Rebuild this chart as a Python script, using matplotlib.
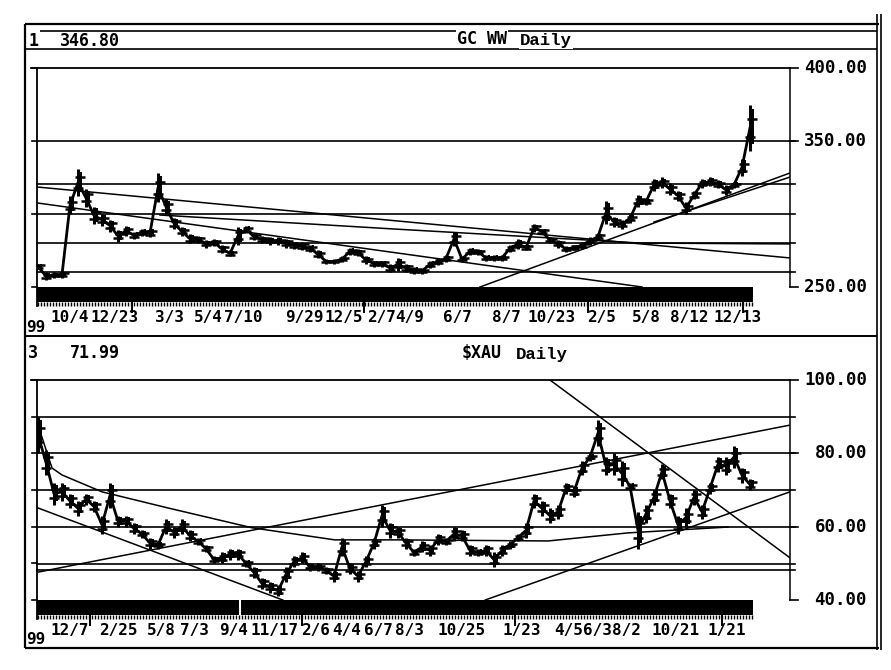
import numpy as np
import matplotlib
matplotlib.use("Agg")
import matplotlib.pyplot as plt
from matplotlib.patches import Rectangle
from matplotlib.transforms import blended_transform_factory

W, H = 891, 670

# ---------------- data ----------------
gold_low = [262, 255, 256, 256, 300, 312, 305, 293, 292, 288,
            281, 285, 283, 285, 284, 308, 300, 290, 285, 280,
            280, 277, 278, 273, 271, 279, 287, 282, 280, 279,
            279, 277, 276, 275, 274, 270, 266, 266, 267, 272,
            271, 266, 264, 264, 260, 261, 260, 259, 259, 263,
            265, 267, 278, 267, 272, 272, 268, 268, 268, 274,
            276, 275, 288, 286, 280, 277, 274, 275, 276, 279,
            282, 293, 291, 290, 294, 305, 306, 316, 318, 313,
            309, 300, 310, 318, 319, 318, 313, 318, 326, 343]
gold_high = [266, 260, 260, 261, 312, 331, 317, 305, 300, 296,
             289, 292, 288, 290, 290, 328, 310, 297, 291, 286,
             285, 282, 283, 279, 275, 291, 292, 287, 285, 284,
             284, 283, 281, 281, 279, 275, 269, 269, 271, 277,
             276, 271, 268, 268, 266, 270, 266, 264, 263, 268,
             270, 272, 288, 271, 277, 276, 272, 272, 272, 279,
             283, 279, 293, 290, 284, 282, 278, 279, 281, 284,
             287, 309, 298, 296, 300, 313, 311, 324, 325, 321,
             316, 308, 316, 324, 325, 323, 320, 322, 338, 375]

xau_low = [80, 74, 66, 67, 65, 63, 66, 64, 58, 65,
           60, 60, 58, 57, 54, 54, 58, 57, 58, 56,
           55, 53, 50, 50, 51, 51, 49, 46, 43, 42,
           41, 45, 49, 50, 48, 48, 47, 45, 52, 47,
           45, 49, 54, 60, 57, 57, 54, 52, 53, 52,
           55, 55, 56, 56, 52, 52, 52, 49, 52, 54,
           56, 57, 65, 63, 61, 62, 69, 68, 74, 78,
           82, 74, 74, 71, 70, 54, 61, 66, 73, 65,
           58, 60, 66, 62, 69, 75, 74, 76, 72, 70]
xau_high = [90, 81, 72, 72, 69, 67, 69, 67, 63, 72,
            63, 63, 61, 59, 57, 56, 62, 60, 62, 59,
            57, 55, 52, 53, 54, 54, 51, 49, 46, 45,
            44, 49, 52, 53, 50, 50, 49, 48, 57, 50,
            48, 52, 57, 66, 61, 60, 57, 54, 56, 55,
            58, 57, 60, 59, 55, 54, 55, 53, 55, 56,
            58, 61, 69, 67, 65, 66, 72, 71, 78, 80,
            89, 79, 80, 78, 72, 64, 66, 70, 77, 69,
            63, 65, 70, 66, 72, 79, 79, 82, 76, 73]

gold_levels = [350, 320.5, 300, 280, 260.3]
xau_levels = [90, 80, 70, 60, 49.8, 48.3]

# trend lines / curves: (bar index, price)
gold_trends = [
    [(-0.125, 318.5), (94, 269.9)],
    [(0, 307.5), (75.5, 250)],
    [(15.25, 299.3), (44.6, 289.7), (75.25, 280.1), (94, 279.5)],
    [(55.25, 250), (94, 328.1)],
    [(77.0, 294.5), (94, 325.3)],
]
xau_trends = [
    [(0, 87.7), (1.75, 76), (3, 74.1), (8, 69.5), (16.25, 65.1), (26.75, 59.7),
     (37.1, 56.4), (44.6, 56.4), (63.75, 56.1), (73.75, 58.3), (86.25, 59.9)],
    [(0, 65.1), (30.6, 40)],
    [(0, 47.6), (94, 87.7)],
    [(64, 100), (94, 51.5)],
    [(55.9, 40), (94, 69.5)],
]

gold_dates = ["10/4", "12/23", "3/3", "5/4", "7/10", "9/29", "12/5", "2/7", "4/9",
              "6/7", "8/7", "10/23", "2/5", "5/8", "8/12", "12/13"]
gold_date_pos = [4.0, 9.6, 16.4, 21.3, 25.7, 33.25, 38.25, 42.9, 46.5,
                 52.4, 58.6, 64.25, 70.5, 76.0, 81.4, 87.5]
gold_year_pos = [11.75, 40.75, 68.75, 88.1]

xau_dates = ["12/7", "2/25", "5/8", "7/3", "9/4", "11/17", "2/6", "4/4", "6/7",
             "8/3", "10/25", "1/23", "4/5", "6/3", "8/2", "10/21", "1/21"]
xau_date_pos = [4.0, 10.1, 15.4, 19.6, 24.4, 29.6, 34.7, 38.6, 42.5,
                46.4, 53.0, 60.5, 66.3, 69.9, 73.5, 79.75, 86.1]
xau_year_pos = [6.5, 33.0, 59.6, 85.5]

# ---------------- figure ----------------
fig = plt.figure(figsize=(W / 100, H / 100), dpi=100)
fig.patch.set_facecolor("white")

ov = fig.add_axes([0, 0, 1, 1])
ov.set_xlim(0, W)
ov.set_ylim(H, 0)
ov.axis("off")

MONO = "DejaVu Sans Mono"
K = "black"

def frame_line(x0, y0, x1, y1, lw=1.3):
    ov.plot([x0, x1], [y0, y1], color=K, lw=lw, solid_capstyle="butt")

# outer frame
frame_line(25, 24, 879, 24, 1.6)
frame_line(25, 24, 25, 648, 1.6)
frame_line(25, 648, 879, 648, 1.6)
frame_line(877, 14, 877, 650, 1.2)
frame_line(881, 14, 881, 650, 1.2)
# header lines
frame_line(40, 31, 877, 31, 1.2)
frame_line(25, 49, 877, 49, 1.2)
frame_line(25, 336, 877, 336, 1.4)

bg = dict(facecolor="white", edgecolor="none", pad=0.6)
ov.text(28, 40.5, "1", family=MONO, weight="bold", fontsize=12, va="center", ha="left")
ov.text(60, 40.5, "346.80", family=MONO, weight="bold", fontsize=12, va="center", ha="left")
ov.text(457, 38.5, "GC WW", family=MONO, weight="bold", fontsize=12, va="center", ha="left", bbox=bg)
ov.text(520, 41, "Daily", family="Liberation Mono", weight="bold", fontsize=12.5, va="center", ha="left", bbox=bg)
ov.text(28, 353, "3", family=MONO, weight="bold", fontsize=12, va="center", ha="left")
ov.text(70, 353, "71.99", family=MONO, weight="bold", fontsize=12, va="center", ha="left")
ov.text(462, 353, "$XAU", family=MONO, weight="bold", fontsize=12, va="center", ha="left")
ov.text(516, 355, "Daily", family="Liberation Mono", weight="bold", fontsize=12.5, va="center", ha="left")
ov.text(26, 327, "99", family=MONO, weight="bold", fontsize=11.5, va="center", ha="left")
ov.text(26, 639, "99", family=MONO, weight="bold", fontsize=11.5, va="center", ha="left")


def panel(box_px, lo, hi, low, high, levels, trends, label_levels, left_ticks,
          dates, date_pos, year_pos, gap_pos=None):
    x0, y0, x1, y1 = box_px
    ax = fig.add_axes([x0 / W, 1 - y1 / H, (x1 - x0) / W, (y1 - y0) / H])
    ax.set_facecolor("none")
    for s in ax.spines.values():
        s.set_visible(False)
    ax.set_xticks([])
    ax.set_yticks([])
    ax.set_xlim(-0.125, 94)
    ax.set_ylim(lo, hi)
    wpx = x1 - x0
    hpx = y1 - y0
    tr = blended_transform_factory(ax.transData, ax.transAxes)
    trY = blended_transform_factory(ax.transAxes, ax.transData)

    # frame of the plot
    ax.plot([-6 / wpx, 1], [1, 1], transform=ax.transAxes, color=K, lw=1.3, clip_on=False)
    ax.plot([0, 0], [1, -19 / hpx], transform=ax.transAxes, color=K, lw=1.3, clip_on=False)
    ax.plot([1, 1], [0, 1], transform=ax.transAxes, color=K, lw=1.1, clip_on=False)
    for v in left_ticks:
        ax.plot([-5 / wpx, 0], [v, v], transform=trY, color=K, lw=1.2, clip_on=False)
    for v in label_levels:
        ax.plot([1, 1 + 8 / wpx], [v, v], transform=trY, color=K, lw=1.2, clip_on=False)
        ax.text(1 + 77 / wpx, v, f"{v:.2f}", transform=trY, family=MONO, weight="bold",
                fontsize=12.5, ha="right", va="center", clip_on=False)
    for v in levels:
        ax.plot([0, 1 + 5 / wpx], [v, v], transform=trY, color=K, lw=1.2, clip_on=False)
    for t in trends:
        xs, ys = zip(*t)
        ax.plot(xs, ys, color=K, lw=1.1, clip_on=True)

    # price bars
    n = len(low)
    idx = np.arange(n)
    lo_a = np.array(low, float)
    hi_a = np.array(high, float)
    mid = (lo_a + hi_a) / 2
    ax.vlines(idx, lo_a, hi_a, color=K, lw=2.2)
    ax.vlines(idx + 0.35, lo_a + (hi_a - lo_a) * 0.15, hi_a - (hi_a - lo_a) * 0.1, color=K, lw=1.4)
    ax.plot(idx, mid, color=K, lw=2.0)
    ax.plot(idx, lo_a + (hi_a - lo_a) * 0.3, color=K, lw=0, marker="_", ms=7, mew=1.8)
    ax.plot(idx + 0.3, hi_a - (hi_a - lo_a) * 0.3, color=K, lw=0, marker="_", ms=7, mew=1.8)

    # black strip below plot
    xend = n - 1 + 0.4
    strip_h = 15 / hpx
    ax.add_patch(Rectangle((-0.125, -strip_h), xend + 0.125, strip_h, transform=tr,
                           facecolor=K, edgecolor="none", clip_on=False))
    if gap_pos is not None:
        ax.plot([gap_pos, gap_pos], [-strip_h, 0], transform=tr, color="white", lw=1.5, clip_on=False)
    comb = np.arange(0, xend, 0.375)
    ax.vlines(comb, -strip_h - 4 / hpx, -strip_h, transform=tr, color=K, lw=1.0, clip_on=False)
    ax.vlines(year_pos, -strip_h - 11 / hpx, -strip_h, transform=tr, color=K, lw=1.4, clip_on=False)
    for d, p in zip(dates, date_pos):
        ax.text(p, -31 / hpx, d, transform=tr, family=MONO, weight="bold", fontsize=11.5,
                ha="center", va="center", clip_on=False)
    return ax


panel((37, 68, 790, 287), 250, 400, gold_low, gold_high, gold_levels, gold_trends,
      [400, 350, 250], [400, 350, 300, 250], gold_dates, gold_date_pos, gold_year_pos)
panel((37, 380, 790, 600), 40, 100, xau_low, xau_high, xau_levels, xau_trends,
      [100, 80, 60, 40], [100, 90, 80, 70, 60, 50, 40], xau_dates, xau_date_pos, xau_year_pos,
      gap_pos=25.25)

fig.savefig("out.png", dpi=100, facecolor="white")
